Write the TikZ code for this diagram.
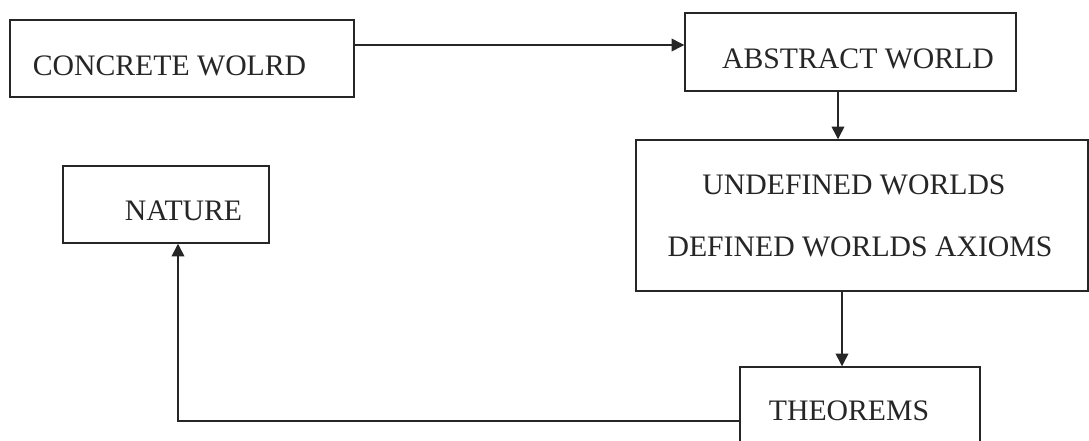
\documentclass[tikz,border=0pt]{standalone}
\usepackage{fontspec}
\setmainfont{Liberation Serif}
\usetikzlibrary{arrows.meta}
\begin{document}
\begin{tikzpicture}[x=0.75pt,y=-0.75pt,
  box/.style={draw=black!85,line width=1.1pt,inner sep=0pt,minimum width=#1},
  lbl/.style={anchor=base,inner sep=0pt,text=black!85,font=\fontsize{22.3}{26}\selectfont},
  arr/.style={draw=black!85,line width=1.1pt,-{Triangle[length=9.5pt,width=9.5pt]}},
  ln/.style={draw=black!85,line width=1.1pt}]
\clip (0,0) rectangle (1089,440);
\fill[white] (0,0) rectangle (1089,440);
% boxes
\node[box=258pt,minimum height=57.75pt] (concrete) at (182,58.5) {};
\node[box=248.25pt,minimum height=58.5pt] (abstract) at (850.5,52) {};
\node[box=339pt,minimum height=113.25pt] (undefined) at (862,215.5) {};
\node[box=154.5pt,minimum height=57.75pt] (nature) at (166,204.5) {};
\node[box=180pt,minimum height=71.25pt] (theorems) at (860,414.5) {};
% texts
\node[lbl] (t1) at (169.5,75) {CONCRETE WOLRD};
\node[lbl] (t2) at (858,68) {ABSTRACT WORLD};
\node[lbl] (t3) at (854,194) {UNDEFINED WORLDS};
\node[lbl] (t4) at (860,256) {DEFINED WORLDS AXIOMS};
\node[lbl] (t5) at (183.5,220) {NATURE};
\node[lbl] (t6) at (849,420) {THEOREMS};
% helper coordinates
\coordinate (h1) at (0,45);
\coordinate (h2) at (0,421);
\coordinate (v1) at (838,0);
\coordinate (v2) at (842,0);
\coordinate (v3) at (178,0);
% connectors
\draw[arr] (concrete.east |- h1) -- (abstract.west |- h1);
\draw[arr] (abstract.south -| v1) -- (undefined.north -| v1);
\draw[arr] (undefined.south -| v2) -- (theorems.north -| v2);
\draw[arr] (theorems.west |- h2) -- (v3 |- h2) -- (nature.south -| v3);
\end{tikzpicture}
\end{document}
